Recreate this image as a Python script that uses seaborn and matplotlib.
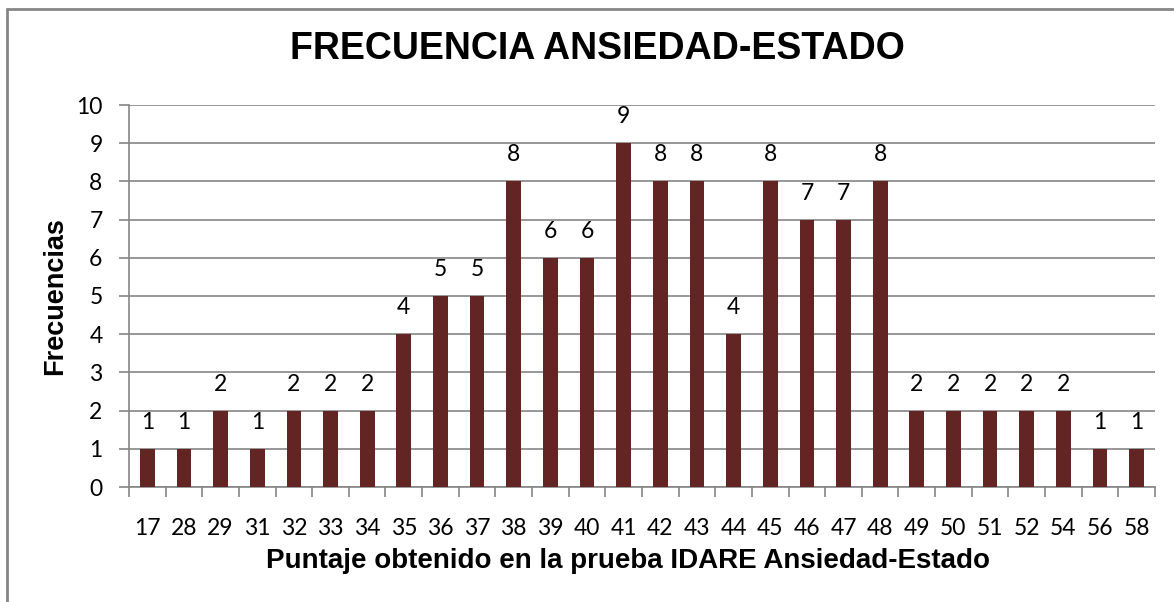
import matplotlib
matplotlib.use("Agg")
import matplotlib.pyplot as plt
import seaborn as sns
import pandas as pd
from matplotlib.lines import Line2D

# Datos
puntajes = ["17", "28", "29", "31", "32", "33", "34", "35", "36", "37", "38", "39", "40", "41",
            "42", "43", "44", "45", "46", "47", "48", "49", "50", "51", "52", "54", "56", "58"]
frecuencias = [1, 1, 2, 1, 2, 2, 2, 4, 5, 5, 8, 6, 6, 9, 8, 8, 4, 8, 7, 7, 8, 2, 2, 2, 2, 2, 1, 1]
y_ticks = [0, 1, 2, 3, 4, 5, 6, 7, 8, 9, 10]

df = pd.DataFrame({"puntaje": puntajes, "frecuencia": frecuencias})

sns.set_style("white")
plt.rcParams['font.family'] = ['Lato', 'DejaVu Sans']
plt.rcParams['text.color'] = 'black'
plt.rcParams['xtick.color'] = 'black'
plt.rcParams['ytick.color'] = 'black'
plt.rcParams['axes.labelcolor'] = 'black'

fig = plt.figure(figsize=(11.74, 6.02), dpi=100)
ax = fig.add_axes([129 / 1174, 1 - 487 / 602, (1155 - 129) / 1174, (487 - 105) / 602])

gris = "#868686"
sns.barplot(data=df, x="puntaje", y="frecuencia", color="#632523", width=0.4,
            saturation=1, linewidth=0, ax=ax, zorder=3)

# Etiquetas de datos
for i, v in enumerate(frecuencias):
    ax.text(i, v + 0.42, str(v), ha="center", va="bottom", fontsize=16.5, color="black")

ax.set_xlim(-0.5, len(puntajes) - 0.5)
ax.set_ylim(0, 10)
ax.set_yticks(y_ticks)
ax.yaxis.grid(True, color=gris, linewidth=1.2, zorder=0)
ax.set_axisbelow(True)

for s in ["top", "right"]:
    ax.spines[s].set_visible(False)
for s in ["left", "bottom"]:
    ax.spines[s].set_color(gris)
    ax.spines[s].set_linewidth(1.2)

# Marcas del eje x entre categorias
ax.set_xticks([i - 0.5 for i in range(len(puntajes) + 1)], minor=True)
ax.tick_params(axis="x", which="minor", bottom=True, direction="out", length=7,
               color=gris, width=1.2)
ax.tick_params(axis="x", which="major", bottom=False, length=0, pad=22, labelsize=16.5,
               labelcolor="black")
ax.tick_params(axis="y", which="major", left=True, direction="out", length=7, color=gris,
               width=1.2, labelsize=16.5, pad=12, labelcolor="black")

ax.set_xlabel("Puntaje obtenido en la prueba IDARE Ansiedad-Estado",
              fontsize=20, fontweight="bold", family="Liberation Sans")
ax.xaxis.set_label_coords((628 - 129) / 1026, (487 - 548) / 382)
ax.set_ylabel("Frecuencias", fontsize=19.5, fontweight="bold", family="Liberation Sans",
              labelpad=6)

fig.text(597 / 1174, 1 - 49 / 602, "FRECUENCIA ANSIEDAD-ESTADO", ha="center", va="center",
         fontsize=27, fontweight="bold", family="Liberation Sans")

# Borde del grafico
fig.add_artist(Line2D([6.5 / 1174, 6.5 / 1174], [0, 1 - 9 / 602], transform=fig.transFigure,
                      color=gris, linewidth=2))
fig.add_artist(Line2D([6.5 / 1174, 1], [1 - 9 / 602, 1 - 9 / 602], transform=fig.transFigure,
                      color=gris, linewidth=2))

fig.savefig("out.png", dpi=100)
